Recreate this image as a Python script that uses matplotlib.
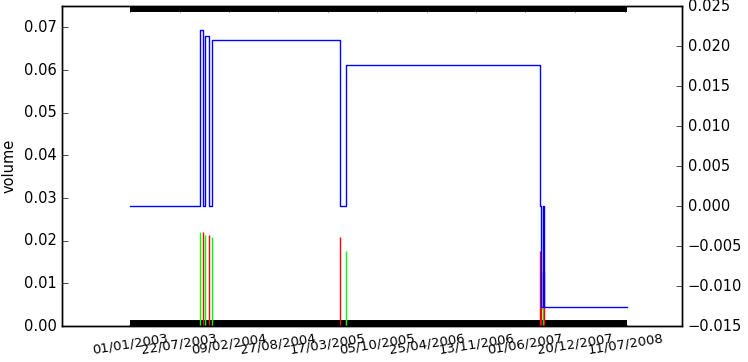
import matplotlib
matplotlib.use('Agg')
import matplotlib.pyplot as plt
import pandas as pd

plt.style.use('classic')

# data
tick_dates = ['2003-01-01', '2003-07-22', '2004-02-09', '2004-08-27', '2005-03-17',
              '2005-10-05', '2006-04-25', '2006-11-13', '2007-06-01', '2007-12-20',
              '2008-07-11']
tick_labels = ['01/01/2003', '22/07/2003', '09/02/2004', '27/08/2004', '17/03/2005',
               '05/10/2005', '25/04/2006', '13/11/2006', '01/06/2007', '20/12/2007',
               '11/07/2008']

start_date = '2003-01-01'
end_date = '2008-07-19'

# position (right axis), step series
pos_dates = ['2003-01-01', '2003-10-14', '2003-10-27', '2003-11-04', '2003-11-20',
             '2003-12-02', '2005-05-04', '2005-06-01', '2007-08-01', '2007-08-05',
             '2007-08-11', '2007-08-15', '2008-07-19']
pos_values = [0.0, 0.0220, 0.0, 0.0213, 0.0, 0.0207, 0.0, 0.0176, 0.0, -0.0126,
              0.0, -0.0126, -0.0126]

# volume bars (left axis)
buy_dates = ['2003-10-14', '2003-11-04', '2003-12-02', '2005-06-01', '2007-08-11']
buy_volume = [0.0221, 0.0214, 0.0209, 0.0176, 0.0126]
sell_dates = ['2003-10-27', '2003-11-20', '2005-05-04', '2007-08-01', '2007-08-05',
              '2007-08-15']
sell_volume = [0.0221, 0.0213, 0.0209, 0.0176, 0.0126, 0.0126]

vol_lim = (0, 0.075)
pos_lim = (-0.015, 0.025)

fig = plt.figure(figsize=(7.48, 3.62), dpi=100, facecolor='white')
ax = fig.add_axes([0.0829, 0.0994, 0.8289, 0.884])

span = pd.to_datetime([start_date, end_date])
ax.plot(span, [vol_lim[0]] * 2, color='c', lw=1.5)
ax.plot(span, [vol_lim[0]] * 2, color='k', lw=8.6, solid_capstyle='butt')
ax.plot(span, [vol_lim[1]] * 2, color='k', lw=8.6, solid_capstyle='butt')

ax.vlines(pd.to_datetime(buy_dates), 0, buy_volume, color='lime', lw=1)
ax.vlines(pd.to_datetime(sell_dates), 0, sell_volume, color='r', lw=1)

ax.set_ylim(*vol_lim)
ax.set_ylabel('volume', fontsize=10.5)
ax.set_xlim(pd.Timestamp('2002-03-30'), pd.Timestamp('2009-02-28'))
ax.set_xticks(pd.to_datetime(tick_dates))
ax.set_xticklabels(tick_labels, rotation=9, fontsize=9.5)
ax.tick_params(axis='y', labelsize=10.5)

ax2 = ax.twinx()
ax2.step(pd.to_datetime(pos_dates), pos_values, where='post', color='b', lw=1)
ax2.set_ylim(*pos_lim)
ax2.set_xlim(pd.Timestamp('2002-03-30'), pd.Timestamp('2009-02-28'))
ax2.tick_params(axis='y', labelsize=10.5)

fig.savefig('out.png', dpi=100, facecolor='white')
